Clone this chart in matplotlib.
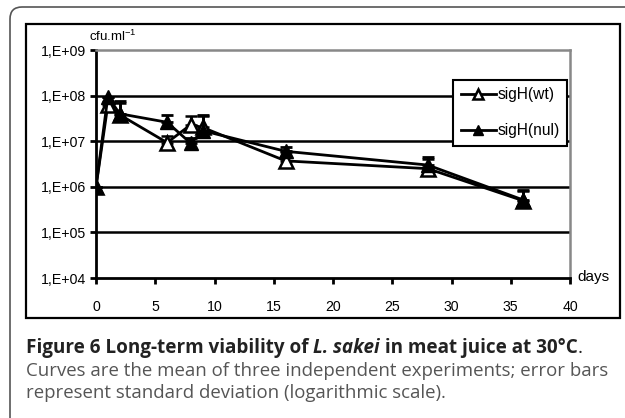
import numpy as np
import matplotlib.pyplot as plt
from matplotlib.patches import Rectangle, FancyBboxPatch
from matplotlib.lines import Line2D

plt.rcParams['font.family'] = ['Liberation Sans', 'DejaVu Sans']
plt.rcParams['mathtext.fontset'] = 'custom'
plt.rcParams['mathtext.rm'] = 'Liberation Sans'

days = [0, 1, 2, 6, 8, 9, 16, 28, 36]
wt = [1.0e6, 6.3e7, 3.8e7, 9.3e6, 2.3e7, 2.0e7, 3.7e6, 2.5e6, 5.0e5]
wt_err = [0, 1.0e7, 3.0e7, 3.5e6, 1.2e7, 1.6e7, 2.0e6, 1.5e6, 3.0e5]
nul = [1.0e6, 9.5e7, 4.0e7, 2.6e7, 9.0e6, 1.7e7, 6.0e6, 3.0e6, 5.2e5]
nul_err = [0, 0, 3.5e7, 1.2e7, 3.0e6, 2.0e7, 1.6e6, 1.4e6, 3.5e5]
ytick_vals = [1e4, 1e5, 1e6, 1e7, 1e8, 1e9]
ytick_labels = ['1,E+04', '1,E+05', '1,E+06', '1,E+07', '1,E+08', '1,E+09']
xtick_vals = [0, 5, 10, 15, 20, 25, 30, 35, 40]

W, H = 625, 418
fig = plt.figure(figsize=(W / 100, H / 100), dpi=100)

# outer rounded frame (pixel coords, runs off right/bottom) and inner chart frame
fig.patches.append(FancyBboxPatch((10, -30), 650, H - 7 + 30,
                                  boxstyle='round,pad=0,rounding_size=12',
                                  transform=None, fill=False,
                                  edgecolor='#555555', lw=1.2))
fig.patches.append(Rectangle((26 / W, 1 - 318 / H), 594 / W, 294 / H,
                             transform=fig.transFigure, fill=False,
                             edgecolor='black', lw=1.6))

ax = fig.add_axes([96 / W, 1 - 278 / H, 474 / W, 228 / H])
ax.set_yscale('log')
ax.set_ylim(1e4, 1e9)
ax.set_xlim(0, 40)

for y in ytick_vals[1:-1]:
    ax.axhline(y, color='black', lw=1.8, zorder=1)

ax.errorbar(days, wt, yerr=[np.zeros(len(wt)), wt_err], color='black', lw=2,
            marker='^', ms=9.5, mfc='white', mec='black', mew=1.8,
            capsize=4.5, capthick=2, elinewidth=2, zorder=3)
ax.errorbar(days, nul, yerr=[np.zeros(len(nul)), nul_err], color='black', lw=2,
            marker='^', ms=9.5, mfc='black', mec='black',
            capsize=4.5, capthick=2, elinewidth=2, zorder=4)

ax.set_yticks(ytick_vals)
ax.set_yticklabels(ytick_labels)
ax.minorticks_off()
ax.set_xticks(xtick_vals)
ax.tick_params(axis='both', labelsize=10.2, direction='out', length=4, width=2)
ax.tick_params(axis='x', pad=12)
ax.tick_params(axis='y', pad=3)
for s in ['left', 'bottom']:
    ax.spines[s].set_linewidth(2)
    ax.spines[s].set_color('black')
for s in ['top', 'right']:
    ax.spines[s].set_linewidth(1.8)
    ax.spines[s].set_color('#888888')

handles = [Line2D([], [], color='black', lw=2, marker='^', ms=7,
                  mfc='white', mec='black', mew=1.8),
           Line2D([], [], color='black', lw=2, marker='^', ms=7,
                  mfc='black', mec='black')]
leg = ax.legend(handles, ['sigH(wt)', 'sigH(nul)'], loc='upper right',
                bbox_to_anchor=(0.994, 0.87), fontsize=11.2,
                frameon=True, fancybox=False, edgecolor='black',
                labelspacing=1.35, handlelength=2.3, borderpad=0.5,
                handletextpad=0.05, borderaxespad=0)
leg.get_frame().set_linewidth(1.5)
leg.get_frame().set_alpha(1)

fig.text(89 / W, 1 - 41 / H, r'cfu.ml$^{-1}$', fontsize=9.5, va='baseline')
fig.text(577 / W, 1 - 277 / H, 'days', fontsize=11, va='center')

# caption, pieces placed one after the other
cap_font = ['Open Sans', 'DejaVu Sans']
pieces = [('Figure 6 Long-term viability of ', 'bold', 'normal'),
          ('L. sakei', 'bold', 'italic'),
          (' in meat juice at 30°C', 'bold', 'normal'),
          ('.', 'normal', 'normal')]
fig.canvas.draw()
r = fig.canvas.get_renderer()
x = 26 / W
for txt, wgt, sty in pieces:
    t = fig.text(x, 1 - 353 / H, txt, fontsize=13.6, fontweight=wgt,
                 fontstyle=sty, family=cap_font, color='#222222',
                 va='baseline')
    bb = t.get_window_extent(renderer=r)
    x += bb.width / W
fig.text(26 / W, 1 - 376 / H,
         'Curves are the mean of three independent experiments; error bars',
         fontsize=13.45, family=cap_font, color='#555555', va='baseline')
fig.text(26 / W, 1 - 398 / H,
         'represent standard deviation (logarithmic scale).',
         fontsize=13.45, family=cap_font, color='#555555', va='baseline')

fig.savefig('out.png', dpi=100)
